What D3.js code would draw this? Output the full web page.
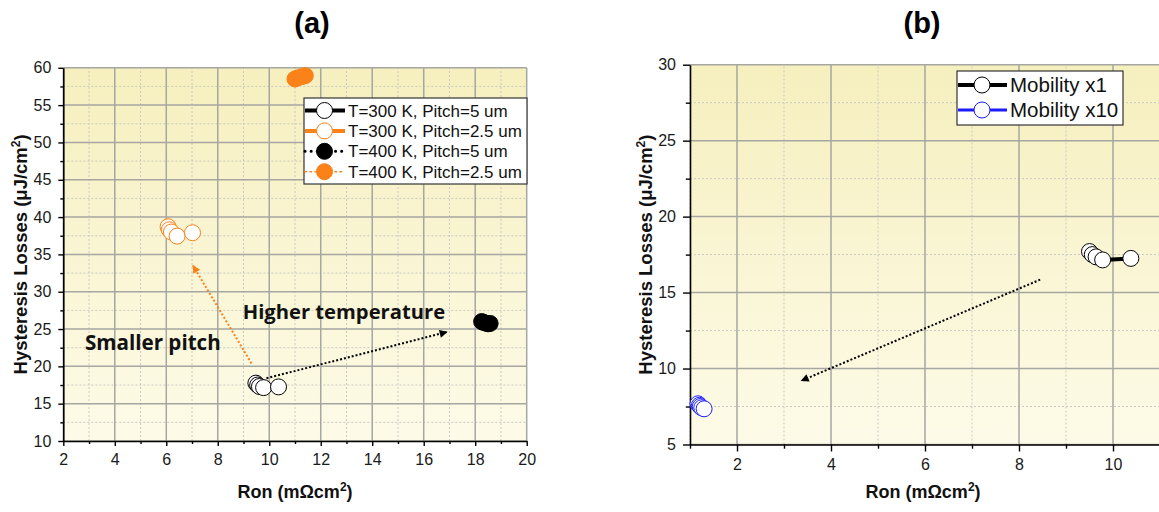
<!DOCTYPE html>
<html>
<head>
<meta charset="utf-8">
<script src="https://cdn.jsdelivr.net/npm/d3@7"></script>
<style>
  html, body { margin: 0; padding: 0; background: #fff; }
  svg { display: block; }
</style>
</head>
<body>
<svg id="chart" width="1159" height="512"></svg>
<script>
// ---- Panel (a): hysteresis losses vs Ron for temperature / pitch ----
const aT300P5X  = [9.48, 9.55, 9.62, 9.78, 10.36];
const aT300P5Y  = [17.75, 17.5, 17.3, 17.15, 17.25];
const aT300P25X = [6.07, 6.12, 6.2, 6.42, 7.02];
const aT300P25Y = [38.7, 38.3, 38.0, 37.45, 37.9];
const aT400P5X  = [18.25, 18.32, 18.4, 18.5, 18.58];
const aT400P5Y  = [26.0, 25.9, 25.8, 25.7, 25.75];
const aT400P25X = [11.0, 11.1, 11.25, 11.4];
const aT400P25Y = [58.5, 58.65, 58.8, 58.95];
const aSeriesNames = ["T=300 K, Pitch=5 um", "T=300 K, Pitch=2.5 um", "T=400 K, Pitch=5 um", "T=400 K, Pitch=2.5 um"];

const aXTicks = [2, 4, 6, 8, 10, 12, 14, 16, 18, 20];
const aXMinor = [3, 5, 7, 9, 11, 13, 15, 17, 19];
const aYTicks = [10, 15, 20, 25, 30, 35, 40, 45, 50, 55, 60];
const aYMinor = [12.5, 17.5, 22.5, 27.5, 32.5, 37.5, 42.5, 47.5, 52.5, 57.5];

// annotation arrows in data units: [x0, y0, x1, y1]
const aArrowTemp  = [9.89, 18.4, 16.9, 24.6];
const aArrowPitch = [9.31, 20.4, 7.04, 33.5];
const aLabelTemp  = [8.97, 26.3];
const aLabelPitch = [2.84, 22.18];

// ---- Panel (b): mobility comparison ----
const bMob1X  = [9.5, 9.56, 9.64, 9.78, 10.38];
const bMob1Y  = [17.7, 17.5, 17.35, 17.15, 17.25];
const bMob10X = [1.17, 1.2, 1.22, 1.25, 1.3];
const bMob10Y = [7.68, 7.58, 7.5, 7.42, 7.35];
const bSeriesNames = ["Mobility x1", "Mobility x10"];

const bXTicks = [2, 4, 6, 8, 10];
const bXMinor = [1, 3, 5, 7, 9, 11];
const bYTicks = [5, 10, 15, 20, 25, 30];
const bYMinor = [7.5, 12.5, 17.5, 22.5, 27.5];
const bArrow = [8.45, 15.85, 3.37, 9.2];

const ORANGE = "#fa8219";
const BLUE = "#1c1cff";
const svg = d3.select("#chart");
const defs = svg.append("defs");

const grad = defs.append("linearGradient").attr("id", "plotBg")
  .attr("x1", 0).attr("y1", 0).attr("x2", 0).attr("y2", 1);
grad.append("stop").attr("offset", "0%").attr("stop-color", "#f6efbe");
grad.append("stop").attr("offset", "100%").attr("stop-color", "#fdfbe8");

function arrowMarker(id, color) {
  defs.append("marker").attr("id", id)
    .attr("viewBox", "0 0 10 10").attr("refX", 9).attr("refY", 5)
    .attr("markerWidth", 10).attr("markerHeight", 8)
    .attr("markerUnits", "userSpaceOnUse")
    .attr("orient", "auto")
    .append("path").attr("d", "M0,0 L10,5 L0,10 Z").attr("fill", color);
}
arrowMarker("headBlack", "#000");
arrowMarker("headOrange", ORANGE);

const FONT = "Arial, 'Liberation Sans', sans-serif";

function drawPanel(cfg) {
  const g = svg.append("g");
  const x = cfg.x, y = cfg.y;
  const [x0, x1] = x.range();
  const [y0, y1] = y.range();

  g.append("rect").attr("x", x0).attr("y", y1)
    .attr("width", x1 - x0).attr("height", y0 - y1)
    .attr("fill", "url(#plotBg)");

  // minor dotted grid
  g.selectAll(".gxm").data(cfg.xMinor).join("line")
    .attr("x1", d => x(d)).attr("x2", d => x(d)).attr("y1", y0).attr("y2", y1)
    .attr("stroke", "#c9c9c4").attr("stroke-width", 1).attr("stroke-dasharray", "2,2");
  g.selectAll(".gym").data(cfg.yMinor).join("line")
    .attr("y1", d => y(d)).attr("y2", d => y(d)).attr("x1", x0).attr("x2", x1)
    .attr("stroke", "#c9c9c4").attr("stroke-width", 1).attr("stroke-dasharray", "2,2");
  // major solid grid
  g.selectAll(".gx").data(cfg.xTicks).join("line")
    .attr("x1", d => x(d)).attr("x2", d => x(d)).attr("y1", y0).attr("y2", y1)
    .attr("stroke", "#a6a6a2").attr("stroke-width", 1.5);
  g.selectAll(".gy").data(cfg.yTicks).join("line")
    .attr("y1", d => y(d)).attr("y2", d => y(d)).attr("x1", x0).attr("x2", x1)
    .attr("stroke", "#a6a6a2").attr("stroke-width", 1.5);

  // axes
  const ax = g.append("g").attr("transform", `translate(0,${y0})`)
    .call(d3.axisBottom(x).tickValues(cfg.xTicks).tickSize(cfg.tick).tickSizeOuter(0)
      .tickPadding(cfg.xPad).tickFormat(d3.format("d")));
  g.append("g").attr("transform", `translate(0,${y0})`)
    .call(d3.axisBottom(x).tickValues(cfg.xMinor.filter(v => v >= x.domain()[0] && v <= x.domain()[1]))
      .tickSize(cfg.tick * 0.6).tickSizeOuter(0).tickFormat(""))
    .call(s => s.select(".domain").remove());
  const ay = g.append("g").attr("transform", `translate(${x0},0)`)
    .call(d3.axisLeft(y).tickValues(cfg.yTicks).tickSize(cfg.tick).tickSizeOuter(0)
      .tickPadding(cfg.yPad).tickFormat(d3.format("d")));
  g.append("g").attr("transform", `translate(${x0},0)`)
    .call(d3.axisLeft(y).tickValues(cfg.yMinor).tickSize(cfg.tick * 0.6).tickSizeOuter(0).tickFormat(""))
    .call(s => s.select(".domain").remove());
  g.selectAll(".domain").attr("stroke", "#000").attr("stroke-width", 1.6);
  g.selectAll(".tick line").attr("stroke", "#000").attr("stroke-width", 1.4);
  [ax, ay].forEach(a => a.selectAll("text")
    .attr("font-family", FONT).attr("font-size", cfg.tickFont).attr("fill", "#1a1a1a"));

  // titles
  svg.append("text").attr("x", cfg.titleX).attr("y", 33).attr("text-anchor", "middle")
    .attr("font-family", FONT).attr("font-weight", "bold").attr("font-size", 29)
    .text(cfg.title);

  const xt = svg.append("text").attr("x", (x0 + x1) / 2 + cfg.xTitleShift).attr("y", 498)
    .attr("text-anchor", "middle").attr("font-family", FONT).attr("font-weight", "bold")
    .attr("font-size", 18).attr("fill", "#111");
  xt.append("tspan").text("Ron (m\u03A9cm");
  xt.append("tspan").attr("dy", -7).attr("font-size", 12).text("2");
  xt.append("tspan").attr("dy", 7).text(")");

  const yt = svg.append("text")
    .attr("transform", `translate(${cfg.yTitleX},${(y0 + y1) / 2}) rotate(-90)`)
    .attr("text-anchor", "middle").attr("font-family", FONT).attr("font-weight", "bold")
    .attr("font-size", 18.5).attr("fill", "#111");
  yt.append("tspan").text("Hysteresis Losses (\u03BCJ/cm");
  yt.append("tspan").attr("dy", -7).attr("font-size", 12).text("2");
  yt.append("tspan").attr("dy", 7).text(")");

  return g;
}

function drawSeries(g, x, y, xs, ys, s) {
  const pts = xs.map((v, i) => [x(v), y(ys[i])]);
  g.append("path").attr("d", d3.line()(pts)).attr("fill", "none")
    .attr("stroke", s.color).attr("stroke-width", s.lineWidth)
    .attr("stroke-dasharray", s.dash || null);
  g.selectAll(null).data(pts).join("circle")
    .attr("cx", d => d[0]).attr("cy", d => d[1]).attr("r", s.r)
    .attr("fill", s.filled ? s.color : "#fff")
    .attr("stroke", s.color).attr("stroke-width", 1);
}

function drawArrow(g, x, y, a, color, head) {
  g.append("line")
    .attr("x1", x(a[0])).attr("y1", y(a[1])).attr("x2", x(a[2])).attr("y2", y(a[3]))
    .attr("stroke", color).attr("stroke-width", 2).attr("stroke-dasharray", "2,2")
    .attr("marker-end", `url(#${head})`);
}

function drawLegend(g, box, rows, fontSize) {
  g.append("rect").attr("x", box.x).attr("y", box.y).attr("width", box.w).attr("height", box.h)
    .attr("fill", "#fff").attr("stroke", "#333").attr("stroke-width", 1.2);
  rows.forEach((r, i) => {
    const cy = box.y + box.first + i * box.step;
    g.append("line").attr("x1", box.x + 1).attr("x2", box.x + box.sample)
      .attr("y1", cy).attr("y2", cy).attr("stroke", r.style.color)
      .attr("stroke-width", r.style.legendLine).attr("stroke-dasharray", r.style.legendDash || null)
      .attr("stroke-linecap", r.style.legendDash ? "round" : "butt");
    g.append("circle").attr("cx", box.x + box.sample / 2).attr("cy", cy).attr("r", r.style.r)
      .attr("fill", r.style.filled ? r.style.color : "#fff")
      .attr("stroke", r.style.color).attr("stroke-width", 1);
    g.append("text").attr("x", box.x + box.sample + 3).attr("y", cy).attr("dy", "0.36em")
      .attr("font-family", FONT).attr("font-size", fontSize).attr("fill", "#111").text(r.name);
  });
}

// ---------- panel (a) ----------
const xA = d3.scaleLinear().domain([2, 20]).range([63.3, 526.7]);
const yA = d3.scaleLinear().domain([10, 60]).range([441, 67.8]);
const gA = drawPanel({
  x: xA, y: yA, xTicks: aXTicks, xMinor: aXMinor, yTicks: aYTicks, yMinor: aYMinor,
  tick: 5, xPad: 8, yPad: 7, tickFont: 16, title: "(a)", titleX: 312,
  xTitleShift: 0, yTitleX: 27
});

const aStyles = [
  { color: "#000", filled: false, r: 8, lineWidth: 4, legendLine: 4 },
  { color: ORANGE, filled: false, r: 8, lineWidth: 4, legendLine: 4 },
  { color: "#000", filled: true, r: 8, lineWidth: 2.5, dash: "0.1,5", legendLine: 3, legendDash: "0.1,6" },
  { color: ORANGE, filled: true, r: 8, lineWidth: 1.5, dash: "2,3", legendLine: 1.6, legendDash: "1.5,3.5" }
];
const aData = [[aT300P5X, aT300P5Y], [aT300P25X, aT300P25Y], [aT400P5X, aT400P5Y], [aT400P25X, aT400P25Y]];

drawArrow(gA, xA, yA, aArrowPitch, ORANGE, "headOrange");
drawArrow(gA, xA, yA, aArrowTemp, "#000", "headBlack");
aData.forEach((d, i) => drawSeries(gA, xA, yA, d[0], d[1], aStyles[i]));

gA.append("text").attr("x", xA(aLabelTemp[0])).attr("y", yA(aLabelTemp[1]))
  .attr("font-family", "'Open Sans', sans-serif").attr("font-weight", 700).attr("font-size", 20.2)
  .attr("fill", "#111").text("Higher temperature");
gA.append("text").attr("x", xA(aLabelPitch[0])).attr("y", yA(aLabelPitch[1]))
  .attr("font-family", "'Open Sans', sans-serif").attr("font-weight", 700).attr("font-size", 20.6)
  .attr("fill", "#111").text("Smaller pitch");

drawLegend(gA, { x: 304, y: 98, w: 223, h: 86, first: 12.5, step: 20.4, sample: 41 },
  aSeriesNames.map((n, i) => ({ name: n, style: aStyles[i] })), 17);

// ---------- panel (b) ----------
const xB = d3.scaleLinear().domain([1, 11]).range([690, 1160]);
const yB = d3.scaleLinear().domain([5, 30]).range([444.5, 64.7]);
const gB = drawPanel({
  x: xB, y: yB, xTicks: bXTicks, xMinor: bXMinor, yTicks: bYTicks, yMinor: bYMinor,
  tick: 7, xPad: 7, yPad: 7, tickFont: 16, title: "(b)", titleX: 922,
  xTitleShift: -2, yTitleX: 652
});

const bStyles = [
  { color: "#000", filled: false, r: 8, lineWidth: 4, legendLine: 4 },
  { color: BLUE, filled: false, r: 8, lineWidth: 3, legendLine: 3 }
];
drawArrow(gB, xB, yB, bArrow, "#000", "headBlack");
drawSeries(gB, xB, yB, bMob1X, bMob1Y, bStyles[0]);
drawSeries(gB, xB, yB, bMob10X, bMob10Y, bStyles[1]);

drawLegend(gB, { x: 957, y: 71, w: 166, h: 54, first: 14, step: 25, sample: 50 },
  bSeriesNames.map((n, i) => ({ name: n, style: bStyles[i] })), 20.5);
</script>
</body>
</html>
